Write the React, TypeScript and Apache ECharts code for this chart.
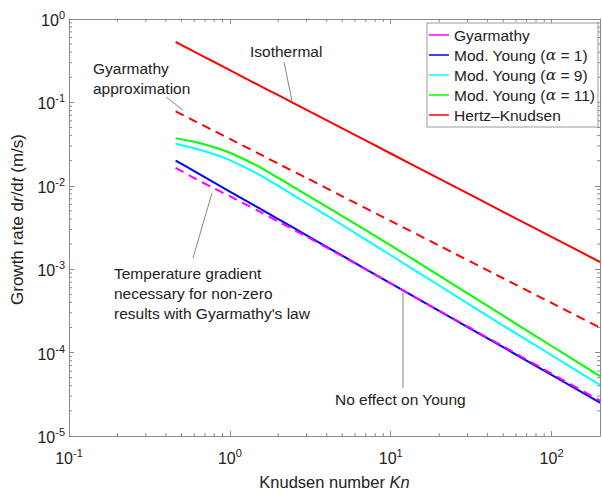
import React, { useEffect, useRef } from 'react';
import * as echarts from 'echarts';

// Knudsen numbers at which the curves were read
const knudsen = [0.46, 0.6, 0.8, 1, 1.5, 2, 3, 5, 10, 20, 50, 100, 200];
// Growth rate dr/dt (m/s)
const gyarmathy = [0.0164, 0.0124, 0.0093, 0.0075, 0.005, 0.00373, 0.00246, 0.00143, 6.75e-4, 3.18e-4, 1.19e-4, 5.6e-5, 2.66e-5];
const young1 = [0.0201, 0.015, 0.0109, 0.00854, 0.00546, 0.00398, 0.00255, 0.00145, 6.78e-4, 3.16e-4, 1.16e-4, 5.41e-5, 2.52e-5];
const young9 = [0.0319, 0.0282, 0.0239, 0.0203, 0.01384, 0.00997, 0.00618, 0.00339, 0.00147, 6.38e-4, 2.11e-4, 9.29e-5, 4.09e-5];
const young11 = [0.0373, 0.0337, 0.029, 0.0249, 0.0172, 0.01241, 0.0078, 0.00433, 0.00193, 8.39e-4, 2.77e-4, 1.2e-4, 5.23e-5];
const hertzKnudsen = [0.53, 0.406, 0.305, 0.244, 0.162, 0.122, 0.0812, 0.0487, 0.0244, 0.0122, 0.00487, 0.00244, 0.00122];
const gyarmathyApprox = [0.0782, 0.0602, 0.0454, 0.0365, 0.0245, 0.0184, 0.0124, 0.00749, 0.00379, 0.00192, 7.79e-4, 3.94e-4, 1.995e-4];

const legendNames = ['Gyarmathy', 'Mod. Young (α = 1)', 'Mod. Young (α = 9)', 'Mod. Young (α = 11)', 'Hertz–Knudsen'];

const xMinorTicks = [0.2, 0.3, 0.4, 0.5, 0.6, 0.7, 0.8, 0.9, 2, 3, 4, 5, 6, 7, 8, 9, 20, 30, 40, 50, 60, 70, 80, 90];
const yMinorTicks = [
  2e-5, 3e-5, 4e-5, 5e-5, 6e-5, 7e-5, 8e-5, 9e-5,
  2e-4, 3e-4, 4e-4, 5e-4, 6e-4, 7e-4, 8e-4, 9e-4,
  2e-3, 3e-3, 4e-3, 5e-3, 6e-3, 7e-3, 8e-3, 9e-3,
  2e-2, 3e-2, 4e-2, 5e-2, 6e-2, 7e-2, 8e-2, 9e-2,
  0.2, 0.3, 0.4, 0.5, 0.6, 0.7, 0.8, 0.9,
];

const FONT = '"Liberation Sans", Arial, Helvetica, sans-serif';
const AXIS_COLOR = '#8a8a8a';
const TEXT_COLOR = '#222';

const pair = (ys: number[]) => knudsen.map((k, i) => [k, ys[i]]);

const powerLabel = (value: number) => {
  const l = Math.log10(value);
  const e = Math.round(l);
  if (Math.abs(l - e) > 1e-6) return '';
  return `{b|10}{s|${e}}`;
};

const labelRich = {
  b: { fontSize: 16, fontFamily: FONT, color: TEXT_COLOR, verticalAlign: 'bottom' },
  s: { fontSize: 11, fontFamily: FONT, color: TEXT_COLOR, verticalAlign: 'bottom', padding: [0, 0, 8, 0] },
};

const lineSeries = (name: string, ys: number[], color: string, dashed: boolean) => ({
  name,
  type: 'line',
  data: pair(ys),
  symbol: 'none',
  smooth: 0.25,
  lineStyle: { color, width: 2, type: dashed ? [9, 6] : 'solid' },
  itemStyle: { color },
  z: 3,
});

export default function App() {
  const ref = useRef<HTMLDivElement>(null);
  useEffect(() => {
    document.body.style.margin = '0';
    const chart = echarts.init(ref.current!, undefined, { renderer: 'svg' });

    const baseX = {
      type: 'log',
      logBase: 10,
      min: 0.1,
      max: 200,
      splitLine: { show: false },
      minorTick: { show: false },
      axisLine: { show: true, lineStyle: { color: AXIS_COLOR, width: 1 } },
      axisTick: { show: true, inside: true, length: 5, lineStyle: { color: AXIS_COLOR } },
    };
    const baseY = {
      type: 'log',
      logBase: 10,
      min: 1e-5,
      max: 1,
      splitLine: { show: false },
      minorTick: { show: false },
      axisLine: { show: true, lineStyle: { color: AXIS_COLOR, width: 1 } },
      axisTick: { show: true, inside: true, length: 5, lineStyle: { color: AXIS_COLOR } },
    };

    const tickLine = (x1: number, y1: number, x2: number, y2: number) => ({
      type: 'line',
      shape: { x1, y1, x2, y2 },
      style: { stroke: AXIS_COLOR, lineWidth: 1 },
    });

    const annotationStyle = (text: string) => ({
      text,
      fill: TEXT_COLOR,
      font: `15.5px ${FONT}`,
      lineHeight: 20,
      textVerticalAlign: 'top',
    });

    const leader = (x1: number, y1: number, x2: number, y2: number) => ({
      type: 'line',
      shape: { x1, y1, x2, y2 },
      style: { stroke: '#666', lineWidth: 0.8 },
      z: 10,
    });

    chart.setOption({
      animation: false,
      backgroundColor: '#fff',
      grid: { left: 69, right: 2, top: 19, bottom: 55, containLabel: false },
      xAxis: [
        {
          ...baseX,
          position: 'bottom',
          name: 'Knudsen number {i|Kn}',
          nameLocation: 'middle',
          nameGap: 37,
          nameTextStyle: {
            fontSize: 16.5, fontFamily: FONT, color: TEXT_COLOR,
            rich: { i: { fontSize: 16.5, fontFamily: FONT, fontStyle: 'italic', color: TEXT_COLOR } },
          },
          axisLabel: { formatter: powerLabel, rich: labelRich, margin: 11, showMaxLabel: false },
        },
        { ...baseX, position: 'top', axisLabel: { show: false } },
      ],
      yAxis: [
        {
          ...baseY,
          position: 'left',
          name: 'Growth rate d{i|r}/d{i|t} (m/s)',
          nameLocation: 'middle',
          nameGap: 43,
          nameTextStyle: {
            fontSize: 17, fontFamily: FONT, color: TEXT_COLOR,
            padding: [0, 0, 0, 16],
            rich: { i: { fontSize: 17, fontFamily: FONT, fontStyle: 'italic', color: TEXT_COLOR } },
          },
          axisLabel: { formatter: powerLabel, rich: labelRich, margin: 4 },
        },
        { ...baseY, position: 'right', axisLabel: { show: false } },
      ],
      legend: {
        data: legendNames,
        orient: 'vertical',
        left: 427,
        top: 23,
        padding: [3, 3, 3, 2],
        icon: 'rect',
        itemWidth: 20,
        itemHeight: 1.5,
        itemGap: 2,
        borderColor: '#9a9a9a',
        borderWidth: 1,
        borderRadius: 0,
        backgroundColor: '#fff',
        formatter: (name: string) => name.replace('α', '{a|α}'),
        textStyle: {
          fontSize: 15.5, lineHeight: 18, fontFamily: FONT, color: TEXT_COLOR,
          rich: { a: { fontSize: 15.5, lineHeight: 18, fontFamily: '"DejaVu Serif", serif', fontStyle: 'italic', color: TEXT_COLOR } },
        },
      },
      series: [
        lineSeries('Hertz–Knudsen', hertzKnudsen, '#ff0000', false),
        lineSeries('Gyarmathy approximation', gyarmathyApprox, '#ff0000', true),
        lineSeries('Mod. Young (α = 11)', young11, '#00ff00', false),
        lineSeries('Mod. Young (α = 9)', young9, '#00ffff', false),
        lineSeries('Mod. Young (α = 1)', young1, '#0000ff', false),
        lineSeries('Gyarmathy', gyarmathy, '#ff00ff', true),
        {
          type: 'custom',
          silent: true,
          data: xMinorTicks.map((v) => [v, 0.001]),
          renderItem: (params: any, api: any) => {
            const cs = params.coordSys;
            const x = api.coord([api.value(0), api.value(1)])[0];
            const top = cs.y;
            const bottom = cs.y + cs.height;
            return {
              type: 'group',
              children: [tickLine(x, bottom, x, bottom - 3), tickLine(x, top, x, top + 3)],
            };
          },
          z: 1,
        },
        {
          type: 'custom',
          silent: true,
          data: yMinorTicks.map((v) => [1, v]),
          renderItem: (params: any, api: any) => {
            const cs = params.coordSys;
            const y = api.coord([api.value(0), api.value(1)])[1];
            const left = cs.x;
            const right = cs.x + cs.width;
            return {
              type: 'group',
              children: [tickLine(left, y, left + 3, y), tickLine(right, y, right - 3, y)],
            };
          },
          z: 1,
        },
      ],
      graphic: [
        { type: 'text', x: 250, y: 41, style: annotationStyle('Isothermal'), z: 10 },
        leader(284, 62, 292, 101),
        { type: 'text', x: 93, y: 58, style: annotationStyle('Gyarmathy\napproximation'), z: 10 },
        leader(166, 97, 183, 110),
        {
          type: 'text', x: 114, y: 263,
          style: annotationStyle("Temperature gradient\nnecessary for non-zero\nresults with Gyarmathy's law"),
          z: 10,
        },
        leader(212, 193, 193, 258),
        { type: 'text', x: 335, y: 389, style: annotationStyle('No effect on Young'), z: 10 },
        leader(403, 293, 403, 388),
      ],
    });
    return () => chart.dispose();
  }, []);
  return <div ref={ref} style={{ width: 602, height: 495 }} />;
}
